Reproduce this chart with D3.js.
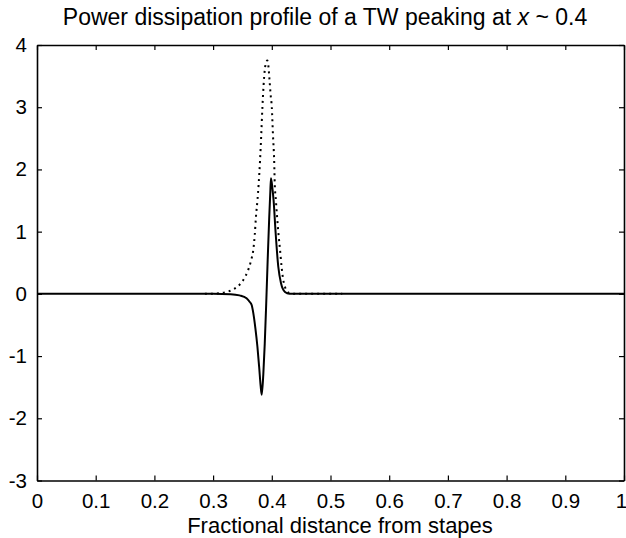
<!DOCTYPE html>
<html>
<head>
<meta charset="utf-8">
<script src="https://cdn.jsdelivr.net/npm/d3@7"></script>
<style>
  html, body { margin: 0; padding: 0; background: #fff; }
  svg { display: block; }
  text { font-family: "Liberation Sans", Arial, Helvetica, sans-serif; fill: #000; }
</style>
</head>
<body>
<svg id="chart" width="626" height="538"></svg>
<script>
// ---- data ----
const titleText = "Power dissipation profile of a TW peaking at ";
const xLabelText = "Fractional distance from stapes";
const xTicks = [0, 0.1, 0.2, 0.3, 0.4, 0.5, 0.6, 0.7, 0.8, 0.9, 1];
const xTickLabels = ["0", "0.1", "0.2", "0.3", "0.4", "0.5", "0.6", "0.7", "0.8", "0.9", "1"];
const yTicks = [-3, -2, -1, 0, 1, 2, 3, 4];
const yTickLabels = ["-3", "-2", "-1", "0", "1", "2", "3", "4"];

// solid curve (net power)
const solidX = [0, 0.30, 0.33, 0.345, 0.357, 0.3625, 0.3657, 0.3685, 0.372, 0.3755, 0.3785, 0.3810, 0.3828,
  0.3855, 0.3880, 0.3905, 0.3930, 0.3955, 0.3975, 0.3986, 0.401, 0.403, 0.4066, 0.411, 0.4157,
  0.4225, 0.43, 1.0];
const solidY = [0, 0, -0.005, -0.025, -0.07, -0.13, -0.18, -0.31, -0.55, -0.85, -1.18, -1.48, -1.62,
  -1.30, -0.80, -0.15, 0.55, 1.20, 1.65, 1.86, 1.70, 1.51, 0.97, 0.44, 0.17,
  0.03, 0, 0];

// dotted curve
const dottedX = [0.286, 0.30, 0.315, 0.325, 0.334, 0.342, 0.349, 0.355, 0.36, 0.3645, 0.3685, 0.371,
  0.373, 0.3755, 0.3777, 0.380, 0.382, 0.384, 0.386, 0.388, 0.3905, 0.3923, 0.394, 0.396, 0.398,
  0.400, 0.402, 0.404, 0.405, 0.407, 0.409, 0.4115, 0.414, 0.4165, 0.4186, 0.4225, 0.426, 0.431,
  0.44, 0.52];
const dottedY = [0, 0.003, 0.015, 0.035, 0.07, 0.12, 0.19, 0.28, 0.39, 0.53, 0.71, 0.95,
  1.24, 1.5, 1.78, 2.15, 2.55, 3.0, 3.35, 3.6, 3.72, 3.75, 3.68, 3.45, 3.2,
  3.0, 2.55, 2.15, 1.78, 1.5, 1.24, 0.95, 0.71, 0.45, 0.28, 0.11, 0.04, 0.01,
  0, 0];

// ---- layout ----
const svg = d3.select("#chart");
const L = 37, R = 624, T = 45, B = 480.5;
const x = d3.scaleLinear().domain([0, 1]).range([L, R]);
const y = d3.scaleLinear().domain([-3, 4]).range([B, T]);

const solid = solidX.map((d, i) => [d, solidY[i]]);
const dotted = dottedX.map((d, i) => [d, dottedY[i]]);
const line = d3.line().x(d => x(d[0])).y(d => y(d[1])).curve(d3.curveMonotoneX);

// axes
const fontSize = "20.5px";
const gB = svg.append("g").attr("transform", `translate(0,${B})`)
  .call(d3.axisBottom(x).tickValues(xTicks).tickSizeInner(-5).tickSizeOuter(0).tickPadding(13)
    .tickFormat((d, i) => xTickLabels[i]));
const gT = svg.append("g").attr("transform", `translate(0,${T})`)
  .call(d3.axisTop(x).tickValues(xTicks).tickSizeInner(-5).tickSizeOuter(0).tickFormat(""));
const gL = svg.append("g").attr("transform", `translate(${L},0)`)
  .call(d3.axisLeft(y).tickValues(yTicks).tickSizeInner(-5).tickSizeOuter(0).tickPadding(10)
    .tickFormat((d, i) => yTickLabels[i]));
const gR = svg.append("g").attr("transform", `translate(${R},0)`)
  .call(d3.axisRight(y).tickValues(yTicks).tickSizeInner(-5).tickSizeOuter(0).tickFormat(""));
[gB, gT, gL, gR].forEach(g => {
  g.select(".domain").attr("stroke", "#000").attr("stroke-width", 1.6);
  g.selectAll(".tick line").attr("stroke", "#000").attr("stroke-width", 1.2);
  g.selectAll(".tick text").attr("font-size", fontSize)
    .attr("font-family", "'Liberation Sans', Arial, sans-serif").attr("fill", "#000");
});
// keep the last x label inside the picture
gB.selectAll(".tick text").filter(d => d === 1).attr("dx", "-3");

// curves
svg.append("path").datum(dotted).attr("d", line)
  .attr("fill", "none").attr("stroke", "#000").attr("stroke-width", 2)
  .attr("stroke-dasharray", "2,4");
svg.append("path").datum(solid).attr("d", line)
  .attr("fill", "none").attr("stroke", "#000").attr("stroke-width", 2);

// title
const title = svg.append("text").attr("x", 325).attr("y", 25)
  .attr("text-anchor", "middle").attr("font-size", "23px");
title.append("tspan").text(titleText);
title.append("tspan").attr("font-style", "italic").text("x");
title.append("tspan").text(" ~ 0.4");

// x label
svg.append("text").attr("x", 340).attr("y", 533)
  .attr("text-anchor", "middle").attr("font-size", "22px").text(xLabelText);
</script>
</body>
</html>
